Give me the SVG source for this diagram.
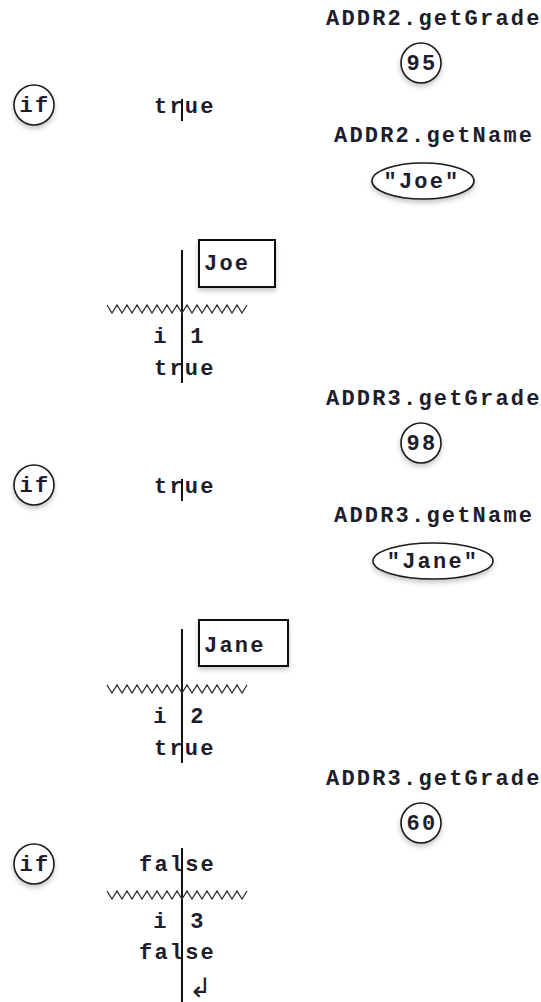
<svg xmlns="http://www.w3.org/2000/svg" width="541" height="1002" viewBox="0 0 541 1002">
  <style>
    .t { font-family: "Liberation Mono", "Courier New", monospace; font-size: 22px; font-weight: bold; letter-spacing: 2.2px; fill: #1d1d2b; }
    .m { text-anchor: middle; }
    .shape { fill: #ffffff; stroke: #1a1a1a; stroke-width: 1.6; filter: url(#sh); }
    .box { fill: #ffffff; stroke: #111111; stroke-width: 2; filter: url(#sh); }
    .rule { stroke: #111111; stroke-width: 2; fill: none; }
    .zz { stroke: #333333; stroke-width: 1.3; fill: none; }
    .arr { font-family: "DejaVu Sans", sans-serif; font-size: 27px; fill: #1d1d2b; }
  </style>
  <defs>
    <filter id="sh" x="-30%" y="-30%" width="160%" height="170%">
      <feDropShadow dx="0" dy="3" stdDeviation="2.5" flood-color="#000000" flood-opacity="0.22"/>
    </filter>
    <path id="zig" d="M107,0 l5,8 l5,-8 l5,8 l5,-8 l5,8 l5,-8 l5,8 l5,-8 l5,8 l5,-8 l5,8 l5,-8 l5,8 l5,-8 l5,8 l5,-8 l5,8 l5,-8 l5,8 l5,-8 l5,8 l5,-8 l5,8 l5,-8 l5,8 l5,-8 l5,8 l5,-8"/>
  </defs>

  <g id="connectors">
    <line class="rule" x1="182" y1="99" x2="182" y2="121"/>
    <line class="rule" x1="182" y1="250" x2="182" y2="383"/>
    <use href="#zig" class="zz" transform="translate(0,305)"/>
    <line class="rule" x1="182" y1="479" x2="182" y2="501"/>
    <line class="rule" x1="182" y1="629" x2="182" y2="763"/>
    <use href="#zig" class="zz" transform="translate(0,685)"/>
    <line class="rule" x1="182" y1="848" x2="182" y2="1002"/>
    <use href="#zig" class="zz" transform="translate(0,891)"/>
  </g>

  <!-- Section 1 -->
  <g id="grade1">
    <text class="t" x="326" y="25">ADDR2.getGrade</text>
    <circle class="shape" cx="421" cy="63" r="20"/>
    <text class="t m" x="422" y="70">95</text>
  </g>
  <g id="if1">
    <circle class="shape" cx="34" cy="105" r="20"/>
    <text class="t m" x="35" y="112">if</text>
  </g>
  <g id="cond1">
    <text class="t" x="154" y="113">true</text>
  </g>
  <g id="name1">
    <text class="t" x="334" y="142">ADDR2.getName</text>
    <ellipse class="shape" cx="423" cy="181" rx="51" ry="18"/>
    <text class="t m" x="422" y="188">"Joe"</text>
  </g>
  <g id="out1">
    <rect class="box" x="199" y="240" width="76" height="47"/>
    <text class="t" x="204" y="270">Joe</text>
  </g>
  <g id="vars1">
    <text class="t m" x="161" y="343">i</text>
    <text class="t m" x="198" y="343">1</text>
    <text class="t" x="154" y="375">true</text>
  </g>

  <!-- Section 2 -->
  <g id="grade2">
    <text class="t" x="326" y="405">ADDR3.getGrade</text>
    <circle class="shape" cx="421" cy="443" r="20"/>
    <text class="t m" x="422" y="450">98</text>
  </g>
  <g id="if2">
    <circle class="shape" cx="34" cy="485" r="20"/>
    <text class="t m" x="35" y="492">if</text>
  </g>
  <g id="cond2">
    <text class="t" x="154" y="493">true</text>
  </g>
  <g id="name2">
    <text class="t" x="334" y="522">ADDR3.getName</text>
    <ellipse class="shape" cx="433" cy="561" rx="60" ry="18"/>
    <text class="t m" x="433" y="568">"Jane"</text>
  </g>
  <g id="out2">
    <rect class="box" x="199" y="620" width="89" height="46"/>
    <text class="t" x="204" y="652">Jane</text>
  </g>
  <g id="vars2">
    <text class="t m" x="161" y="723">i</text>
    <text class="t m" x="198" y="723">2</text>
    <text class="t" x="154" y="755">true</text>
  </g>

  <!-- Section 3 -->
  <g id="grade3">
    <text class="t" x="326" y="785">ADDR3.getGrade</text>
    <circle class="shape" cx="421" cy="823" r="20"/>
    <text class="t m" x="422" y="830">60</text>
  </g>
  <g id="if3">
    <circle class="shape" cx="34" cy="864" r="20"/>
    <text class="t m" x="35" y="871">if</text>
  </g>
  <g id="cond3">
    <text class="t" x="139" y="871">false</text>
  </g>
  <g id="vars3">
    <text class="t m" x="161" y="928">i</text>
    <text class="t m" x="198" y="928">3</text>
    <text class="t" x="139" y="959">false</text>
    <text class="arr" x="189" y="997">↲</text>
  </g>
</svg>
